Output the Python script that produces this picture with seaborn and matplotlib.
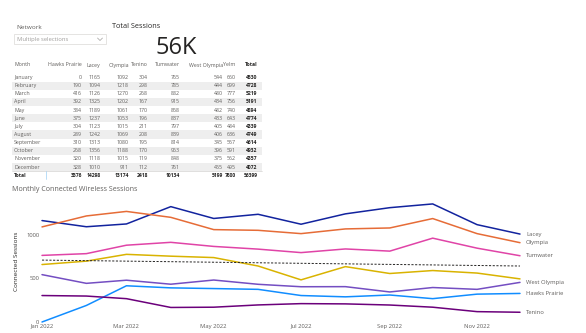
import matplotlib
matplotlib.use("Agg")
import matplotlib.pyplot as plt
import matplotlib.dates as mdates
from matplotlib.patches import Rectangle
from matplotlib.lines import Line2D
import numpy as np
import pandas as pd
import seaborn as sns

# ---------------- data ----------------
months = ["January", "February", "March", "April", "May", "June", "July",
          "August", "September", "October", "November", "December"]
networks = ["Hawks Prairie", "Lacey", "Olympia", "Tenino", "Tumwater", "West Olympia", "Yelm"]
hawks_prairie = [0, 190, 416, 392, 384, 375, 304, 289, 310, 268, 320, 328]
lacey = [1165, 1094, 1126, 1325, 1189, 1237, 1123, 1242, 1313, 1356, 1118, 1010]
olympia = [1092, 1218, 1270, 1202, 1061, 1053, 1015, 1069, 1080, 1188, 1015, 911]
tenino = [304, 298, 268, 167, 170, 196, 211, 208, 195, 170, 119, 112]
tumwater = [765, 785, 882, 915, 868, 837, 797, 839, 814, 963, 848, 761]
west_olympia = [544, 444, 480, 434, 482, 433, 405, 406, 345, 396, 375, 455]
yelm = [660, 699, 777, 756, 740, 643, 484, 636, 557, 591, 562, 495]
row_totals = [4530, 4728, 5219, 5191, 4894, 4774, 4339, 4749, 4614, 4932, 4357, 4072]
col_totals = [3576, 14298, 13174, 2418, 10134, 5199, 7600, 56399]
trend_ends = [711, 643]  # dotted trend line (Jan, Dec)
kpi_label = "56K"
x_tick_labels = ["Jan 2022", "Mar 2022", "May 2022", "Jul 2022", "Sep 2022", "Nov 2022"]
end_labels = ["Lacey", "Olympia", "Tumwater", "West Olympia", "Hawks Prairie", "Tenino"]

series = {"Hawks Prairie": hawks_prairie, "Lacey": lacey, "Olympia": olympia,
          "Tenino": tenino, "Tumwater": tumwater, "West Olympia": west_olympia,
          "Yelm": yelm}
palette = {"Hawks Prairie": "#118DFF", "Lacey": "#12239E", "Olympia": "#E66C37",
           "Tenino": "#6B007B", "Tumwater": "#E044A7", "West Olympia": "#744EC2",
           "Yelm": "#D9B300"}

dates = pd.date_range("2022-01-01", periods=12, freq="MS")
df = pd.DataFrame([{"Month": d, "Network": n, "Sessions": v}
                   for n in networks for d, v in zip(dates, series[n])])

# ---------------- figure ----------------
sns.set_theme(style="white")
plt.rcParams['font.family'] = ['Open Sans', 'DejaVu Sans']
W, H = 586, 333
fig = plt.figure(figsize=(W / 100, H / 100), dpi=100)
fig.patch.set_facecolor("white")

def fx(x):
    return x / W

def fy(y):
    return 1 - y / H

TXT = "#252423"
GRAY = "#605E5C"

# slicer
fig.text(fx(16), fy(27.5), "Network", fontsize=4.6, color=GRAY, va="center", ha="left")
fig.patches.append(Rectangle((fx(14), fy(44.3)), fx(106) - fx(14), fy(34.3) - fy(44.3),
                             transform=fig.transFigure, facecolor="white",
                             edgecolor="#E1DFDD", linewidth=0.6))
fig.text(fx(17), fy(39.5), "Multiple selections", fontsize=4.2, color="#A19F9D",
         va="center", ha="left")
fig.lines.append(Line2D([fx(97.5), fx(100), fx(102.5)], [fy(38), fy(40.5), fy(38)],
                        transform=fig.transFigure, color="#A19F9D", linewidth=0.5))

# KPI card
fig.text(fx(112.5), fy(26), "Total Sessions", fontsize=5.2, color=TXT, va="center", ha="left")
fig.text(fx(176.5), fy(48), kpi_label, fontsize=17, color="#252423", va="center", ha="center")

# table
col_right = [82, 100.5, 129, 148, 180, 223, 235.5, 257.5]
headers = networks + ["Total"]
hdr_y = 65
row0 = 77.5
dy = 8.15
tfs = 3.75
bfs = 3.6
fig.text(fx(14), fy(hdr_y), "Month", fontsize=tfs, color=GRAY, va="center", ha="left")
for h, xr in zip(headers, col_right):
    fig.text(fx(xr), fy(hdr_y), h, fontsize=bfs if h == "Total" else tfs,
             color=TXT if h == "Total" else GRAY,
             va="center", ha="right", fontweight="bold" if h == "Total" else "normal")
for i, m in enumerate(months):
    yc = row0 + i * dy
    if i % 2 == 1:
        fig.patches.append(Rectangle((fx(12), fy(yc + dy / 2)), fx(262) - fx(12), dy / H,
                                     transform=fig.transFigure, facecolor="#EEEEEE",
                                     edgecolor="none", zorder=0))
    fig.text(fx(14), fy(yc), m, fontsize=tfs, color=GRAY, va="center", ha="left")
    vals = [series[n][i] for n in networks] + [row_totals[i]]
    for j, (v, xr) in enumerate(zip(vals, col_right)):
        fig.text(fx(xr), fy(yc), str(v), fontsize=bfs if j == 7 else tfs,
                 color=TXT if j == 7 else GRAY,
                 va="center", ha="right", fontweight="bold" if j == 7 else "normal")
ty = row0 + 12 * dy
fig.lines.append(Line2D([fx(12), fx(262)], [fy(ty - dy / 2), fy(ty - dy / 2)],
                        transform=fig.transFigure, color="#C8C6C4", linewidth=0.4))
fig.lines.append(Line2D([fx(45.5), fx(45.5)], [fy(ty - dy / 2), fy(ty + dy / 2)],
                        transform=fig.transFigure, color="#9ED0F5", linewidth=0.5))
fig.text(fx(14), fy(ty), "Total", fontsize=bfs, color=TXT, va="center", ha="left",
         fontweight="bold")
for v, xr in zip(col_totals, col_right):
    fig.text(fx(xr), fy(ty), str(v), fontsize=bfs, color=TXT, va="center", ha="right",
             fontweight="bold")

# chart title
fig.text(fx(12), fy(189.5), "Monthly Connected Wireless Sessions", fontsize=5.1,
         color=GRAY, va="center", ha="left")

# line chart
ax = fig.add_axes([fx(42), fy(322), fx(520) - fx(42), (322 - 200.1) / H])
ax.set_facecolor("none")
sns.lineplot(data=df, x="Month", y="Sessions", hue="Network", palette=palette,
             hue_order=networks, linewidth=1.1, ax=ax, legend=False)
for ln in ax.lines:
    ln.set_clip_on(False)
ax.plot([dates[0], dates[-1]], trend_ends, color="#252423", linestyle=(0, (2.2, 1.6)),
        linewidth=0.7, clip_on=False)

ax.set_xlim(dates[0], dates[-1])
ax.set_ylim(0, 1400)
ax.set_yticks([0, 500, 1000])
ax.set_yticklabels(["0", "500", "1000"])
tick_dates = [dates[k] for k in range(0, 12, 2)]
ax.set_xticks(tick_dates)
ax.set_xticklabels(x_tick_labels)
ax.tick_params(axis="both", length=0, labelsize=4.2, labelcolor=GRAY, pad=2)
ax.tick_params(axis="x", pad=1.2)
for s in ax.spines.values():
    s.set_visible(False)
ax.set_xlabel("")
ax.set_ylabel("Connected Sessions", fontsize=4.6, color=TXT, labelpad=5)
ax.grid(False)

for name in end_labels:
    ax.annotate(name, xy=(dates[-1], series[name][-1]), xytext=(4.3, 0),
                textcoords="offset points", fontsize=4.2, color=GRAY,
                va="center", ha="left", annotation_clip=False)

fig.savefig("out.png", dpi=100, facecolor="white")
